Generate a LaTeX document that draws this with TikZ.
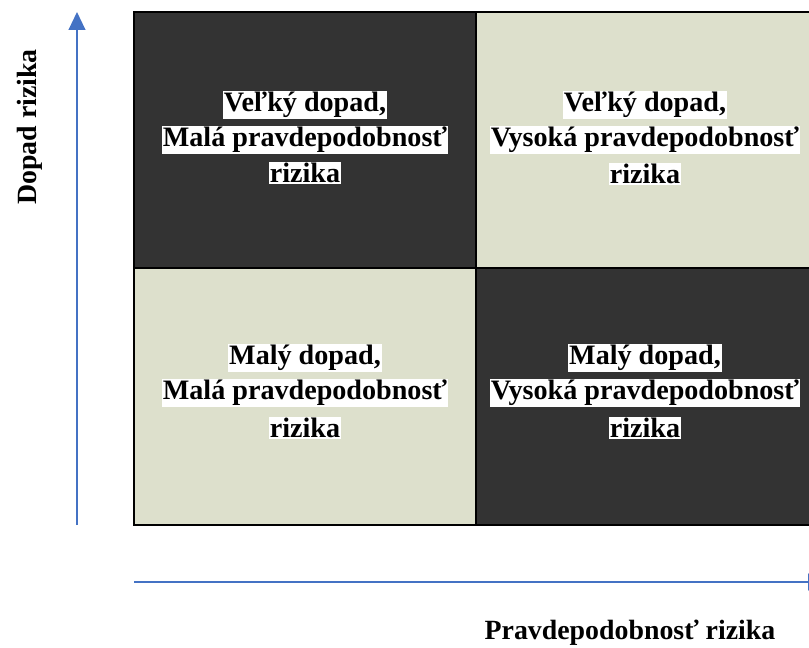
\documentclass[tikz,border=0pt]{standalone}
\usepackage{fontspec}
\setmainfont{Liberation Serif}
\usetikzlibrary{arrows.meta,positioning}
\definecolor{darkcell}{HTML}{333333}
\definecolor{lightcell}{HTML}{DDE0CC}
\definecolor{axisblue}{HTML}{4472C4}
\tikzset{
  cell/.style={draw=black,line width=1.4pt,minimum width=8.55cm,minimum height=6.4cm,inner sep=0pt},
  riskline/.style={fill=white,inner sep=0.6pt,font=\fontsize{20}{24}\selectfont\bfseries},
  axislabel/.style={font=\fontsize{19.8}{24}\selectfont\bfseries}
}
\begin{document}
\begin{tikzpicture}[x=0.025cm,y=-0.025cm]
\useasboundingbox (0,0) rectangle (809,648);
% the four cells
\node[cell,fill=darkcell] (TL) at (305,140) {};
\node[cell,fill=lightcell] (TR) at (647,140) {};
\node[cell,fill=lightcell] (BL) at (305,396.5) {};
\node[cell,fill=darkcell] (BR) at (647,396.5) {};
% texts
\node[riskline] (TLa) at (305,105) {Veľký dopad,};
\node[riskline] (TLb) at (305,140) {Malá pravdepodobnosť};
\node[riskline] (TLc) at (305,173) {rizika};
\node[riskline] (TRa) at (645,105) {Veľký dopad,};
\node[riskline] (TRb) at (645,140) {Vysoká pravdepodobnosť};
\node[riskline] (TRc) at (645,174) {rizika};
\node[riskline] (BLa) at (305,358) {Malý dopad,};
\node[riskline] (BLb) at (305,393) {Malá pravdepodobnosť};
\node[riskline] (BLc) at (305,428) {rizika};
\node[riskline] (BRa) at (645,358) {Malý dopad,};
\node[riskline] (BRb) at (645,393) {Vysoká pravdepodobnosť};
\node[riskline] (BRc) at (645,428) {rizika};
% axes
\coordinate (Ybot) at (77,525);
\coordinate (Ytop) at (77,12);
\coordinate (Xleft) at (134,582);
\coordinate (Xright) at (826,582);
\draw[axisblue,line width=1.2pt,-{Triangle[length=0.45cm,width=0.42cm]}] (Ybot) -- (Ytop);
\draw[axisblue,line width=1.2pt,-{Triangle[length=0.45cm,width=0.42cm]}] (Xleft) -- (Xright);
\node[axislabel,rotate=90] (ylab) at (30,127) {Dopad rizika};
\node[axislabel] (xlab) at (630,633) {Pravdepodobnosť rizika};
\end{tikzpicture}
\end{document}
